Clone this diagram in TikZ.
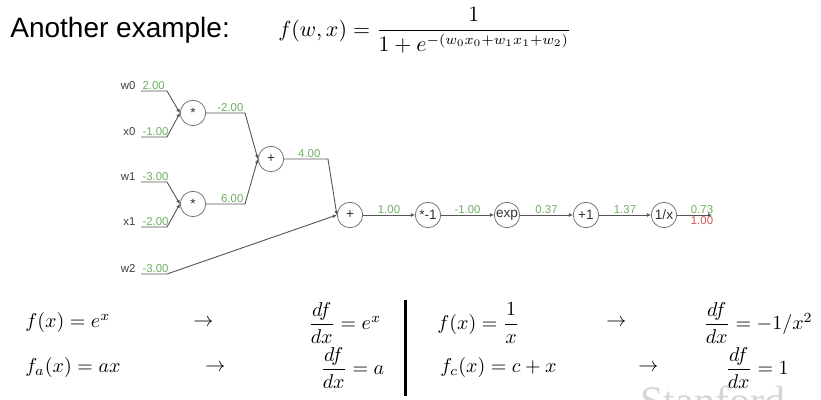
\documentclass[tikz,border=0pt]{standalone}
\usepackage{amsmath}
\usepackage{fontspec}
\setsansfont{Liberation Sans}
\newfontfamily\wmfont{Liberation Serif}
\usetikzlibrary{arrows.meta}
\definecolor{valgreen}{RGB}{112,176,96}
\definecolor{gradred}{RGB}{206,88,88}
\definecolor{wiregray}{RGB}{85,85,85}
\tikzset{
  gate/.style={circle,draw=wiregray!80,minimum size=12.7pt,inner sep=0pt,font=\sffamily\fontsize{6.8}{7}\selectfont,text=black!80},
  val/.style={text=valgreen,font=\sffamily\fontsize{5.7}{6}\selectfont,inner sep=0.6pt},
  gradval/.style={text=gradred,font=\sffamily\fontsize{5.7}{6}\selectfont,inner sep=0.6pt},
  varname/.style={font=\sffamily\fontsize{5.7}{6}\selectfont,text=black!75,inner sep=0.6pt},
  wire/.style={draw=wiregray,line width=0.45pt,-{Latex[length=2pt,width=2pt]}},
  eq/.style={anchor=west,inner sep=0pt,font=\fontsize{10}{12}\selectfont}
}
\begin{document}
\begin{tikzpicture}[x=0.5pt,y=-0.5pt]
\clip(0,0)rectangle(821,400);
\fill[white](0,0)rectangle(821,400);
% title
\node[anchor=west,inner sep=0pt,font=\sffamily\fontsize{14}{16}\selectfont](title)at(10,30){Another example:};
\node[anchor=west,inner sep=0pt,font=\fontsize{10.6}{12}\selectfont](fwx)at(278,30){$f(w,x)=\dfrac{1}{1+e^{-(w_0x_0+w_1x_1+w_2)}}$};
% gates
\node[gate](m0)at(193,113){*};
\node[gate](m1)at(193,204){*};
\node[gate](a0)at(271,159){+};
\node[gate](a1)at(350,215){+};
\node[gate](neg)at(428,215){*-1};
\node[gate](ex)at(507,215){exp};
\node[gate](p1)at(586,215){+1};
\node[gate](inv)at(664,215){1/x};
% inputs
\foreach \n/\v/\y/\g in {w0/2.00/91/m0, x0/-1.00/137/m0, w1/-3.00/182/m1, x1/-2.00/227/m1, w2/-3.00/274/a1}{
  \coordinate(\n s)at(141,\y);
  \coordinate(\n e)at(167,\y);
  \node[varname,anchor=south east](\n)at([xshift=-2pt]\n s){\n};
  \node[val,anchor=south west](\n v)at(\n s){\v};
  \draw[wire](\n s)--(\n e)--(\g.west);
}
% inner wires
\coordinate(m0o)at(245,113);
\coordinate(m1o)at(245,204);
\coordinate(a0o)at(328,159);
\draw[wire](m0)--(m0o)--(a0.west);
\draw[wire](m1)--(m1o)--(a0.west);
\draw[wire](a0)--(a0o)--(a1.west);
\node[val,anchor=south east](m0v)at(m0o){-2.00};
\node[val,anchor=south east](m1v)at(m1o){6.00};
\node[val,anchor=south east](a0v)at([xshift=-3pt]a0o){4.00};
% chain
\foreach \a/\b/\v in {a1/neg/1.00, neg/ex/-1.00, ex/p1/0.37, p1/inv/1.37}{
  \draw[wire](\a)--node[val,above]{\v}(\b);
}
\coordinate(out)at(712,215);
\draw[wire](inv)--(out);
\node[val,anchor=south](outv)at(702,215){0.73};
\node[gradval,anchor=north](outg)at(702,215){1.00};
% rules
\node[eq](r1a)at(25,323){$f(x)=e^x$};
\node[eq](r1b)at(193,323){$\rightarrow$};
\node[eq](r1c)at(308,323){$\dfrac{df}{dx}=e^x$};
\node[eq](r1d)at(437,323){$f(x)=\dfrac{1}{x}$};
\node[eq](r1e)at(606,323){$\rightarrow$};
\node[eq](r1f)at(703,323){$\dfrac{df}{dx}=-1/x^2$};
\node[eq](r2a)at(25,368){$f_a(x)=ax$};
\node[eq](r2b)at(205,368){$\rightarrow$};
\node[eq](r2c)at(320,368){$\dfrac{df}{dx}=a$};
\node[eq](r2d)at(440,368){$f_c(x)=c+x$};
\node[eq](r2e)at(638,368){$\rightarrow$};
\node[eq](r2f)at(725,368){$\dfrac{df}{dx}=1$};
\draw[line width=1.5pt](405,300)--(405,396);
% watermark
\node[anchor=north west,inner sep=0pt,text=black!16,font=\wmfont\fontsize{21}{24}\selectfont](wm)at(640,386){Stanford};
\end{tikzpicture}
\end{document}
